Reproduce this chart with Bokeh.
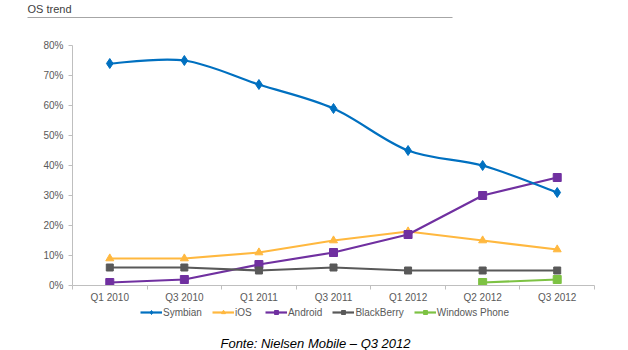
import numpy as np
from bokeh.plotting import figure
from bokeh.layouts import column
from bokeh.models import Legend, LegendItem, FixedTicker, Range1d
from bokeh.core.properties import value
from bokeh.embed import file_html
from bokeh.resources import INLINE

quarters = ["Q1 2010", "Q3 2010", "Q1 2011", "Q3 2011", "Q1 2012", "Q2 2012", "Q3 2012"]
symbian = [74, 75, 67, 59, 45, 40, 31]
ios = [9, 9, 11, 15, 18, 15, 12]
android = [1, 2, 7, 11, 17, 30, 36]
blackberry = [6, 6, 5, 6, 5, 5, 5]
windows_phone = [np.nan, np.nan, np.nan, np.nan, np.nan, 1, 2]
y_ticks = [0, 10, 20, 30, 40, 50, 60, 70, 80]

FONT = "Liberation Sans"
TXT = "#595959"


def blank(h):
    f = figure(width=628, height=h, output_backend="svg", toolbar_location=None,
               x_range=Range1d(0, 628), y_range=Range1d(h, 0),
               min_border=0, x_axis_type=None, y_axis_type=None, frame_align=False)
    f.outline_line_color = None
    f.grid.grid_line_color = None
    return f


# ---------- header (title + rule) ----------
head = blank(25)
head.text(x=[27], y=[8], text=["OS trend"], text_font=value(FONT), text_font_size="11px",
          text_color="#404040", text_baseline="middle")
head.segment(x0=[27], y0=[17], x1=[452], y1=[17], line_color="#A6A6A6", line_width=1.2)

# ---------- main chart ----------
xs = list(range(len(quarters)))
p = figure(width=628, height=280, output_backend="svg", toolbar_location=None,
           x_range=Range1d(-0.5, 6.5), y_range=Range1d(0, 80), frame_align=False,
           min_border_left=72, min_border_right=34, min_border_top=20, min_border_bottom=20)
p.outline_line_color = None
p.grid.grid_line_color = None

p.xaxis.ticker = FixedTicker(ticks=xs, minor_ticks=[i + 0.5 for i in range(-1, 7)])
p.xaxis.major_label_overrides = {i: q for i, q in enumerate(quarters)}
p.xaxis.major_tick_line_color = None
p.xaxis.major_tick_out = 0
p.xaxis.major_tick_in = 0
p.xaxis.minor_tick_line_color = "#BFBFBF"
p.xaxis.minor_tick_in = 0
p.xaxis.minor_tick_out = 4
p.xaxis.axis_line_color = "#BFBFBF"
p.xaxis.major_label_text_font = FONT
p.xaxis.major_label_text_font_size = "10px"
p.xaxis.major_label_text_color = TXT
p.xaxis.major_label_standoff = 2

p.yaxis.ticker = FixedTicker(ticks=y_ticks, minor_ticks=[])
p.yaxis.major_label_overrides = {v: f"{v}%" for v in y_ticks}
p.yaxis.major_tick_line_color = "#BFBFBF"
p.yaxis.major_tick_in = 0
p.yaxis.major_tick_out = 4
p.yaxis.axis_line_color = "#BFBFBF"
p.yaxis.major_label_text_font = FONT
p.yaxis.major_label_text_font_size = "10px"
p.yaxis.major_label_text_color = TXT
p.yaxis.major_label_standoff = 5

# Symbian smoothed with bezier segments (Catmull-Rom style control points)
sx = np.array(xs, dtype=float)
sy = np.array(symbian, dtype=float)
n = len(sx)
x0, y0, x1, y1, cx0, cy0, cx1, cy1 = [], [], [], [], [], [], [], []
for i in range(n - 1):
    pm = i - 1 if i > 0 else i
    pn = i + 2 if i + 2 < n else i + 1
    x0.append(sx[i]); y0.append(sy[i]); x1.append(sx[i + 1]); y1.append(sy[i + 1])
    cx0.append(sx[i] + (sx[i + 1] - sx[pm]) / 6); cy0.append(sy[i] + (sy[i + 1] - sy[pm]) / 6)
    cx1.append(sx[i + 1] - (sx[pn] - sx[i]) / 6); cy1.append(sy[i + 1] - (sy[pn] - sy[i]) / 6)

series = [
    ("Symbian", symbian, "#0070C0", "diamond", 10),
    ("iOS", ios, "#FFB83F", "triangle", 8),
    ("Android", android, "#7030A0", "square", 8),
    ("BlackBerry", blackberry, "#595959", "square", 7),
    ("Windows Phone", windows_phone, "#7DC243", "square", 8),
]

for name, vals, col, mk, sz in series[1:]:
    p.line(xs, vals, line_color=col, line_width=2.2)
    p.scatter(xs, vals, marker=mk, size=sz, color=col)

p.bezier(x0=x0, y0=y0, x1=x1, y1=y1, cx0=cx0, cy0=cy0, cx1=cx1, cy1=cy1,
         line_color="#0070C0", line_width=2.2)
p.scatter(xs, symbian, marker="diamond", size=10, color="#0070C0")

# ---------- footer (legend + source) ----------
foot = blank(45)
items = []
for name, vals, col, mk, sz in series:
    lr = foot.line(x=[np.nan, np.nan], y=[np.nan, np.nan], line_color=col, line_width=2.2)
    sr = foot.scatter(x=[np.nan], y=[np.nan], marker=mk, size=sz * 0.7, color=col)
    items.append(LegendItem(label=name, renderers=[lr, sr]))

legend = Legend(items=items, orientation="horizontal", location=(140, 32),
                label_text_font=FONT, label_text_font_size="10px", label_text_color=TXT,
                glyph_width=22, glyph_height=10, spacing=10, label_standoff=1,
                padding=0, margin=0, border_line_color=None, background_fill_alpha=0,
                label_height=12)
foot.add_layout(legend)

foot.text(x=[315], y=[38], text=["Fonte: Nielsen Mobile \u2013 Q3 2012"],
          text_font=value(FONT), text_font_size="13px", text_font_style="italic",
          text_color="#000000", text_align="center", text_baseline="middle")

layout = column(head, p, foot, spacing=0)
open("out.html", "w").write(file_html(layout, INLINE))
